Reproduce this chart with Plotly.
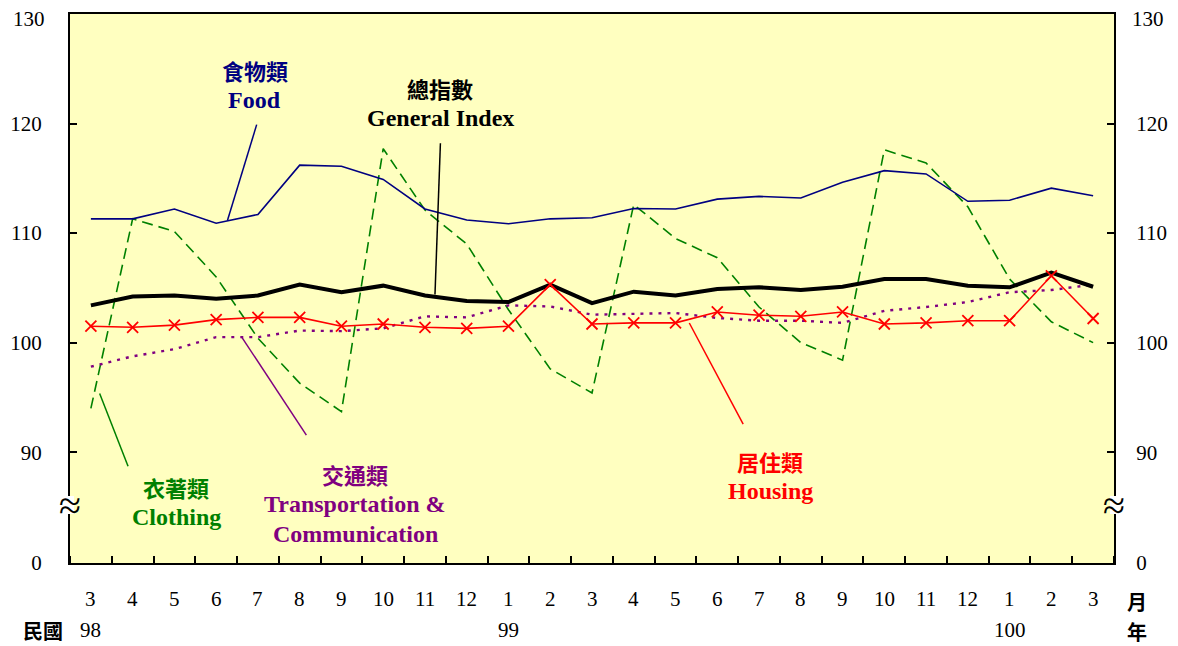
import plotly.graph_objects as go

months = ["3", "4", "5", "6", "7", "8", "9", "10", "11", "12", "1", "2", "3",
          "4", "5", "6", "7", "8", "9", "10", "11", "12", "1", "2", "3"]
years = {0: "98", 10: "99", 22: "100"}

general = [103.4, 104.2, 104.3, 104.0, 104.3, 105.3, 104.6, 105.2, 104.3, 103.8, 103.7, 105.3, 103.6,
           104.65, 104.3, 104.9, 105.05, 104.8, 105.1, 105.8, 105.8, 105.2, 105.05, 106.4, 105.1]
food = [111.3, 111.3, 112.2, 110.9, 111.7, 116.2, 116.1, 114.9, 112.2, 111.2, 110.85, 111.3, 111.4,
        112.25, 112.2, 113.1, 113.35, 113.2, 114.65, 115.7, 115.4, 112.9, 113.0, 114.1, 113.4]
clothing = [94.0, 111.3, 110.15, 106.0, 100.4, 96.3, 93.7, 117.7, 112.1, 109.0, 103.0, 97.6, 95.4,
            112.6, 109.5, 107.75, 103.25, 100.0, 98.4, 117.6, 116.4, 112.4, 105.8, 101.9, 100.0]
housing = [101.5, 101.4, 101.6, 102.1, 102.3, 102.3, 101.5, 101.7, 101.4, 101.3, 101.5, 105.3, 101.7,
           101.8, 101.8, 102.8, 102.5, 102.4, 102.8, 101.7, 101.8, 102.0, 102.0, 106.1, 102.2]
transport = [97.8, 98.75, 99.4, 100.5, 100.5, 101.1, 101.05, 101.3, 102.4, 102.3, 103.4, 103.3, 102.55,
             102.6, 102.7, 102.25, 102.0, 102.0, 101.8, 102.9, 103.25, 103.7, 104.6, 104.8, 105.3]

y_ticks = [79.88, 90, 100, 110, 120, 130]
y_ticktext = ["0", "90", "100", "110", "120", "130"]

x = list(range(len(months)))
SERIF = "Liberation Serif, Times New Roman, serif"
CJK = "Noto Sans CJK TC, Liberation Serif, serif"

# the page body adds an 8px offset; work in screen pixels and subtract it
OFF = 8
L, R, T, B = 70 - OFF, 1114 - OFF, 14 - OFF, 563 - OFF
W, H = 1178 - OFF, 646 - OFF


def px_x(p):
    return (p - OFF - L) / (R - L)


def px_y(p):
    return (B - (p - OFF)) / (B - T)


fig = go.Figure()
fig.add_trace(go.Scatter(x=x, y=clothing, mode="lines", name="Clothing",
                         line=dict(color="#008000", width=1.6, dash="11px,6px")))
fig.add_trace(go.Scatter(x=x, y=transport, mode="lines", name="Transportation",
                         line=dict(color="#800080", width=2.4, dash="3px,6px")))
fig.add_trace(go.Scatter(x=x, y=food, mode="lines", name="Food",
                         line=dict(color="#000080", width=1.6)))
fig.add_trace(go.Scatter(x=x, y=general, mode="lines", name="General",
                         line=dict(color="#000000", width=4)))
fig.add_trace(go.Scatter(x=x, y=housing, mode="lines+markers", name="Housing",
                         line=dict(color="#FF0000", width=1.6),
                         marker=dict(symbol="x-thin", size=11, line=dict(color="#FF0000", width=1.8))))
fig.add_trace(go.Scatter(x=[0], y=[100], yaxis="y2", mode="markers",
                         marker=dict(opacity=0), showlegend=False, hoverinfo="skip"))

# the top tick label (130) is drawn as an annotation a little lower so it is not clipped
axis_ticktext = y_ticktext[:-1] + [""]

yrange = [79.88, 130]
fig.update_layout(
    width=W, height=H,
    margin=dict(l=L, r=W - R, t=T, b=H - B, autoexpand=False),
    paper_bgcolor="white", plot_bgcolor="#FFFFC0",
    showlegend=False,
    xaxis=dict(range=[-0.5, 24.5], showgrid=False, zeroline=False, automargin=False,
               showline=True, linecolor="black", linewidth=2, mirror=True,
               tickvals=[], ticks="",
               minor=dict(tickmode="linear", tick0=0.5, dtick=1, ticks="inside",
                          ticklen=7, tickcolor="black", tickwidth=1.5, showgrid=False)),
    yaxis=dict(range=yrange, showgrid=False, zeroline=False, automargin=False,
               showline=True, linecolor="black", linewidth=2,
               tickvals=y_ticks, ticktext=axis_ticktext, ticks="inside", ticklen=7,
               tickwidth=1.5, tickcolor="black", ticklabelstandoff=22,
               ticklabeloverflow="allow",
               tickfont=dict(family=SERIF, size=21, color="black")),
    yaxis2=dict(range=yrange, overlaying="y", side="right", showgrid=False, zeroline=False,
                automargin=False,
                showline=True, linecolor="black", linewidth=2,
                tickvals=y_ticks, ticktext=axis_ticktext, ticks="inside", ticklen=7,
                tickwidth=1.5, tickcolor="black", ticklabelstandoff=16,
                ticklabeloverflow="allow",
                tickfont=dict(family=SERIF, size=21, color="black")),
)

annotations = []
annotations.append(dict(x=px_x(47), y=px_y(19), xref="paper", yref="paper", text=y_ticktext[-1],
                        showarrow=False, font=dict(family=SERIF, size=21, color="black"),
                        xanchor="right", yanchor="middle"))
annotations.append(dict(x=px_x(1130), y=px_y(19), xref="paper", yref="paper", text=y_ticktext[-1],
                        showarrow=False, font=dict(family=SERIF, size=21, color="black"),
                        xanchor="left", yanchor="middle"))
# month labels and year labels
for i, m in enumerate(months):
    annotations.append(dict(x=i, y=px_y(599), xref="x", yref="paper", text=m, showarrow=False,
                            font=dict(family=SERIF, size=21, color="black"), yanchor="middle"))
for i, yv in years.items():
    annotations.append(dict(x=i, y=px_y(630), xref="x", yref="paper", text=yv, showarrow=False,
                            font=dict(family=SERIF, size=21, color="black"), yanchor="middle"))
annotations.append(dict(x=px_x(43), y=px_y(630), xref="paper", yref="paper", text="<b>民國</b>",
                        showarrow=False, font=dict(family=CJK, size=20, color="black"),
                        xanchor="center", yanchor="middle"))
annotations.append(dict(x=px_x(1137), y=px_y(601), xref="paper", yref="paper", text="<b>月</b>",
                        showarrow=False, font=dict(family=CJK, size=20, color="black"),
                        xanchor="center", yanchor="middle"))
annotations.append(dict(x=px_x(1137), y=px_y(631), xref="paper", yref="paper", text="<b>年</b>",
                        showarrow=False, font=dict(family=CJK, size=20, color="black"),
                        xanchor="center", yanchor="middle"))

# break symbols
for xp in [70, 1114]:
    annotations.append(dict(x=px_x(xp), y=px_y(505), xref="paper", yref="paper", text="≈",
                            showarrow=False, font=dict(family=SERIF, size=40, color="black"),
                            xanchor="center", yanchor="middle"))


def label(xc, yc, lines, color, cjk_first=True):
    for k, t in enumerate(lines):
        fam = CJK if (k == 0 and cjk_first) else SERIF
        size = 22 if (k == 0 and cjk_first) else 24
        annotations.append(dict(x=xc, y=yc - k * 2.72, xref="x", yref="y", text="<b>" + t + "</b>",
                                showarrow=False, font=dict(family=fam, size=size, color=color),
                                xanchor="center", yanchor="middle"))


label(3.92, 124.85, ["食物類", "Food"], "#000080")
label(8.37, 123.2, ["總指數", "General Index"], "#000000")
label(2.05, 86.8, ["衣著類", "Clothing"], "#008000")
label(6.33, 88.0, ["交通類", "Transportation &", "Communication"], "#800080")
label(16.27, 89.2, ["居住類", "Housing"], "#FF0000")

fig.update_layout(annotations=annotations)

shapes = []
leaders = [
    ((3.97, 119.9), (3.27, 111.15), "#000080"),
    ((8.37, 118.2), (8.24, 104.4), "#000000"),
    ((0.21, 95.35), (0.89, 88.72), "#008000"),
    ((3.62, 100.46), (5.16, 91.55), "#800080"),
    ((14.33, 101.79), (15.62, 92.55), "#FF0000"),
]
for (x0, y0), (x1, y1), c in leaders:
    shapes.append(dict(type="line", xref="x", yref="y", x0=x0, y0=y0, x1=x1, y1=y1,
                       line=dict(color=c, width=1.5)))
# gaps in the axis lines at the break
for xp in [70, 1114]:
    shapes.append(dict(type="rect", xref="paper", yref="paper",
                       x0=px_x(xp - 4), x1=px_x(xp + 4), y0=px_y(514), y1=px_y(496),
                       fillcolor="white", line=dict(width=0), layer="above"))
fig.update_layout(shapes=shapes)

fig.write_html("out.html")
